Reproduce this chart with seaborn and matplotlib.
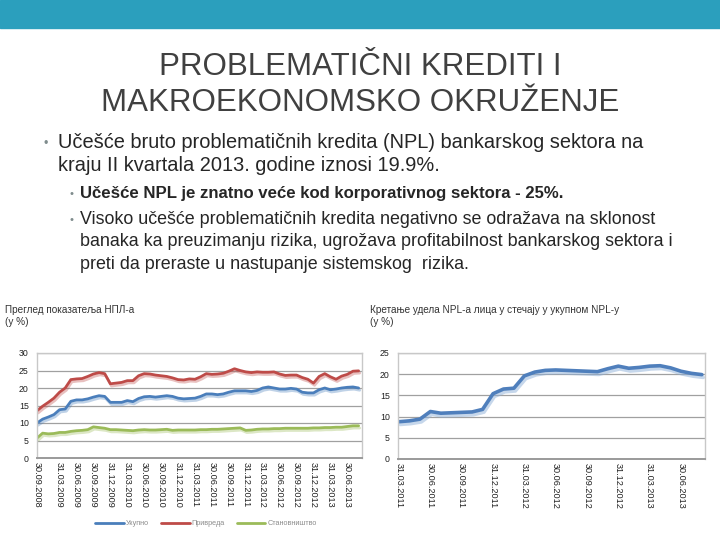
import matplotlib
matplotlib.use("Agg")
import matplotlib.pyplot as plt
import matplotlib.patheffects as pe
import numpy as np
import pandas as pd
import seaborn as sns

# ---- slide text ----
slide_title = ["PROBLEMATIČNI KREDITI I", "MAKROEKONOMSKO OKRUŽENJE"]
bullet_main = ["Učešće bruto problematičnih kredita (NPL) bankarskog sektora na",
               "kraju II kvartala 2013. godine iznosi 19.9%."]
bullet_bold = "Učešće NPL je znatno veće kod korporativnog sektora - 25%."
bullet_sub = ["Visoko učešće problematičnih kredita negativno se odražava na sklonost",
              "banaka ka preuzimanju rizika, ugrožava profitabilnost bankarskog sektora i",
              "preti da preraste u nastupanje sistemskog  rizika."]

# ---- left chart: NPL ratios (%), monthly, 30.09.2008 - 31.08.2013 ----
npl_title = "Преглед показатеља НПЛ-а\n(у %)"
npl_series = ["Укупно", "Привреда", "Становништво"]
npl_dates = ([d.strftime("%d.%m.%Y") for d in pd.date_range("2008-09-30", "2008-12-31", freq="ME")]
             + [d.strftime("%d.%m.%Y") for d in pd.date_range("2009-03-31", "2013-08-31", freq="ME")])
npl_total = [10.0, 11.1, 11.7, 12.4, 13.8, 14.0, 16.2, 16.6, 16.6, 16.9,
             17.4, 17.8, 17.6, 15.9, 15.9, 15.9, 16.4, 16.1, 17.0, 17.5,
             17.6, 17.4, 17.6, 17.8, 17.6, 17.1, 16.9, 17.0, 17.1, 17.6,
             18.3, 18.3, 18.1, 18.3, 18.8, 19.2, 19.2, 19.2, 19.0, 19.3,
             20.0, 20.3, 20.0, 19.7, 19.7, 19.9, 19.7, 18.8, 18.6, 18.6,
             19.5, 20.0, 19.5, 19.7, 20.0, 20.2, 20.3, 20.0]
npl_corporate = [13.5, 14.8, 15.9, 17.1, 18.8, 20.0, 22.4, 22.6, 22.7, 23.3,
                 24.0, 24.4, 24.1, 21.2, 21.4, 21.6, 22.1, 22.1, 23.5, 24.1,
                 24.0, 23.7, 23.5, 23.3, 22.9, 22.4, 22.3, 22.6, 22.5, 23.2,
                 24.1, 23.9, 24.0, 24.2, 24.8, 25.5, 25.0, 24.6, 24.4, 24.6,
                 24.5, 24.5, 24.6, 24.0, 23.6, 23.7, 23.7, 23.0, 22.5, 21.4,
                 23.3, 24.1, 23.2, 22.5, 23.4, 23.9, 24.8, 24.9]
npl_household = [5.7, 7.1, 6.9, 7.0, 7.3, 7.3, 7.6, 7.8, 7.9, 8.1,
                 8.9, 8.7, 8.5, 8.1, 8.1, 8.0, 7.9, 7.8, 8.0, 8.1,
                 8.0, 8.0, 8.1, 8.2, 7.9, 8.0, 8.0, 8.0, 8.0, 8.1,
                 8.1, 8.2, 8.2, 8.3, 8.4, 8.5, 8.6, 7.9, 8.0, 8.2,
                 8.3, 8.3, 8.4, 8.4, 8.5, 8.5, 8.5, 8.5, 8.5, 8.6,
                 8.6, 8.7, 8.7, 8.8, 8.8, 9.0, 9.2, 9.2]
npl_ticks = ["30.09.2008", "31.03.2009", "30.06.2009", "30.09.2009", "31.12.2009",
             "31.03.2010", "30.06.2010", "30.09.2010", "31.12.2010", "31.03.2011",
             "30.06.2011", "30.09.2011", "31.12.2011", "31.03.2012", "30.06.2012",
             "30.09.2012", "31.12.2012", "31.03.2013", "30.06.2013"]

# ---- right chart: share of NPL of firms in bankruptcy (%), monthly ----
bankr_title = "Кретање удела NPL-а лица у стечају у укупном NPL-у\n(у %)"
bankr_dates = [d.strftime("%d.%m.%Y") for d in pd.date_range("2011-03-31", "2013-08-31", freq="ME")]
bankr_share = [8.8, 9.0, 9.4, 11.2, 10.8, 10.9, 11.0, 11.1, 11.7, 15.4,
               16.5, 16.7, 19.6, 20.5, 20.9, 21.0, 20.9, 20.8, 20.7, 20.6,
               21.3, 21.9, 21.4, 21.6, 21.9, 22.0, 21.5, 20.7, 20.2, 19.9]
bankr_ticks = ["31.03.2011", "30.06.2011", "30.09.2011", "31.12.2011", "31.03.2012",
               "30.06.2012", "30.09.2012", "31.12.2012", "31.03.2013", "30.06.2013"]

colors = {"Укупно": "#4a7ebb", "Привреда": "#be4b48", "Становништво": "#9bbb59"}

sns.set_style("white")
plt.rcParams["font.family"] = ["Liberation Sans", "DejaVu Sans"]

W, H = 720, 540
fig = plt.figure(figsize=(7.2, 5.4), dpi=100)


def fx(px):
    return px / W


def fy(py):
    return 1 - py / H


# header band
fig.patches.append(plt.Rectangle((0, fy(28)), 1, 28 / H, transform=fig.transFigure,
                                 color="#2b9fbd", zorder=0))

fig.text(0.5, fy(75), slide_title[0], ha="center", va="baseline", fontsize=22.5,
         color="#404040")
fig.text(0.5, fy(111), slide_title[1], ha="center", va="baseline", fontsize=22.5,
         color="#404040")

fig.text(fx(43), fy(147), "•", fontsize=9, color="#7f8c8d", va="baseline")
fig.text(fx(58), fy(148), bullet_main[0], fontsize=14.4, color="#262626", va="baseline")
fig.text(fx(58), fy(171), bullet_main[1], fontsize=14.4, color="#262626", va="baseline")
fig.text(fx(69), fy(197), "•", fontsize=8, color="#7f8c8d", va="baseline")
fig.text(fx(80), fy(198), bullet_bold, fontsize=12.1, fontweight="bold", color="#262626", va="baseline")
fig.text(fx(69), fy(223), "•", fontsize=8, color="#7f8c8d", va="baseline")
for k, line in enumerate(bullet_sub):
    fig.text(fx(80), fy(224 + 22.5 * k), line, fontsize=12.9, color="#262626", va="baseline")

shadow = lambda c: [pe.SimpleLineShadow(offset=(0.8, -1.6), shadow_color=c, alpha=0.35), pe.Normal()]


def style_axes(ax, ymax, ticks, dates):
    ax.set_ylim(0, ymax)
    ax.set_yticks(np.arange(0, ymax + 1, 5))
    ax.yaxis.grid(True, color="#a0a0a0", linewidth=0.9)
    ax.set_axisbelow(True)
    for s in ax.spines.values():
        s.set_color("#c8c8c8")
        s.set_linewidth(1.0)
    ax.spines["bottom"].set_color("#9a9a9a")
    ax.spines["bottom"].set_linewidth(1.4)
    ax.set_xlim(0, len(dates) - 1 + 0.6)
    ax.set_xticks([dates.index(t) for t in ticks])
    ax.set_xticklabels(ticks, rotation=-90, fontsize=6.6, color="#222222")
    ax.tick_params(axis="y", labelsize=6.3, colors="#222222", length=0, pad=6)
    ax.tick_params(axis="x", length=0, pad=3)
    ax.set_xlabel("")
    ax.set_ylabel("")


# left chart
ax1 = fig.add_axes([fx(37), fy(458), fx(325), (458 - 353) / H])
df1 = pd.DataFrame({"pos": np.arange(len(npl_dates)), "Укупно": npl_total,
                    "Привреда": npl_corporate, "Становништво": npl_household})
df1 = df1.melt(id_vars="pos", var_name="serija", value_name="vrednost")
sns.lineplot(data=df1, x="pos", y="vrednost", hue="serija", palette=colors,
             hue_order=npl_series, linewidth=2.0, ax=ax1)
for line, name in zip(ax1.get_lines(), npl_series):
    line.set_path_effects(shadow(colors[name]))
style_axes(ax1, 30, npl_ticks, npl_dates)
ax1.legend(loc="upper center", bbox_to_anchor=(0.52, -0.53), ncol=3, frameon=False,
           fontsize=5.2, handlelength=4.0, handletextpad=0.3, columnspacing=1.6,
           labelcolor="#8c8c8c")
fig.text(fx(5), fy(325), npl_title, fontsize=7.2, color="#333333", va="baseline",
         linespacing=1.25)

# right chart
ax2 = fig.add_axes([fx(398), fy(459), fx(307), (459 - 353) / H])
df2 = pd.DataFrame({"pos": np.arange(len(bankr_dates)), "udeo": bankr_share})
sns.lineplot(data=df2, x="pos", y="udeo", color="#4f7fbc", linewidth=2.6, ax=ax2)
ax2.get_lines()[0].set_path_effects(
    [pe.SimpleLineShadow(offset=(1.0, -2.0), shadow_color="#8fb0d8", alpha=0.5), pe.Normal()])
style_axes(ax2, 25, bankr_ticks, bankr_dates)
ax2.set_xlim(-0.1, len(bankr_dates) - 1 + 0.3)
fig.text(fx(370), fy(325), bankr_title, fontsize=7.2, color="#333333", va="baseline",
         linespacing=1.25)

fig.savefig("out.png", dpi=100)
